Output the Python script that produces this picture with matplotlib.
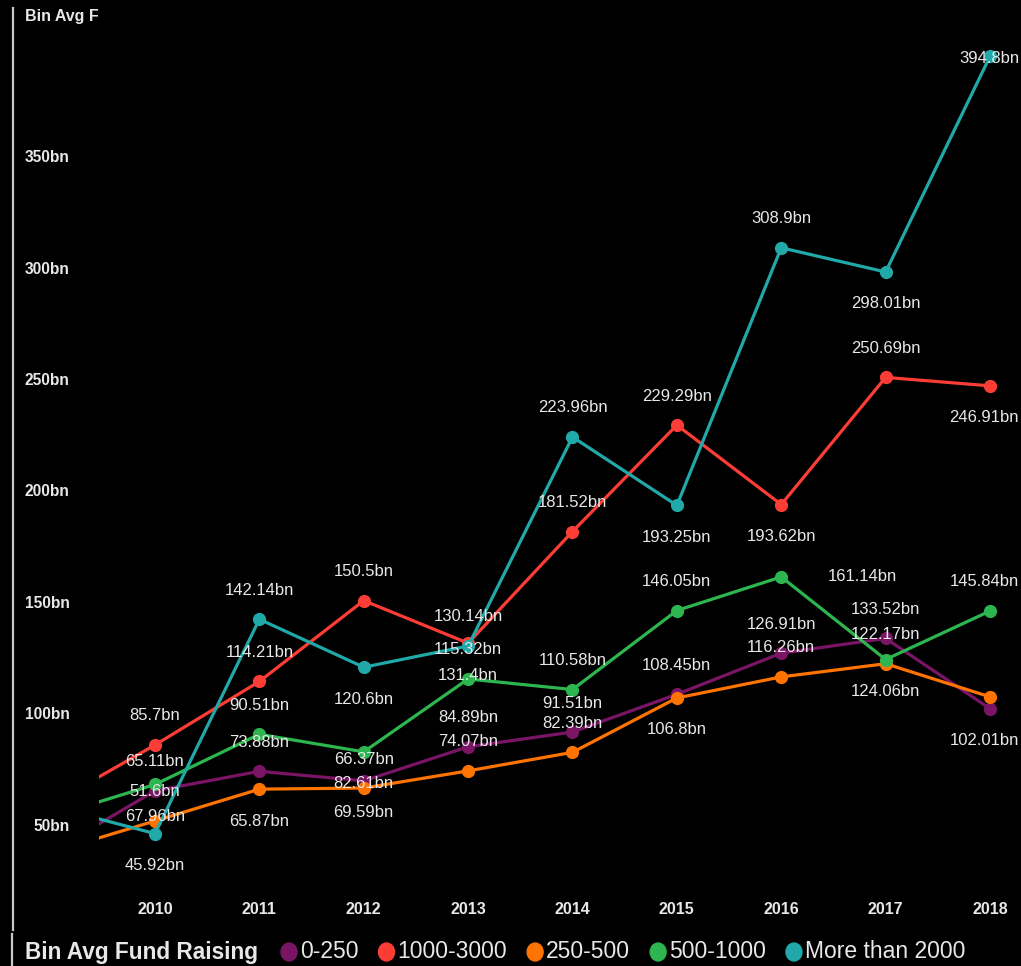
import matplotlib
matplotlib.use("Agg")
import matplotlib.pyplot as plt
from matplotlib.patches import Ellipse
from matplotlib.lines import Line2D
from matplotlib.ticker import FuncFormatter

# ---- data -------------------------------------------------------------
years = [2009, 2010, 2011, 2012, 2013, 2014, 2015, 2016, 2017, 2018]
series_names = ["0-250", "1000-3000", "250-500", "500-1000", "More than 2000"]

fund_0_250 = [37.5, 65.11, 73.88, 69.59, 84.89, 91.51, 108.45, 126.91, 133.52, 102.01]
fund_1000_3000 = [59.0, 85.7, 114.21, 150.5, 131.4, 181.52, 229.29, 193.62, 250.69, 246.91]
fund_250_500 = [37.4, 51.6, 65.87, 66.37, 74.07, 82.39, 106.8, 116.26, 122.17, 107.3]
fund_500_1000 = [53.4, 67.96, 90.51, 82.61, 115.32, 110.58, 146.05, 161.14, 124.06, 145.84]
fund_over_2000 = [58.2, 45.92, 142.14, 120.6, 130.14, 223.96, 193.25, 308.9, 298.01, 394.8]

y_ticks = [50, 100, 150, 200, 250, 300, 350]
x_ticks = [2010, 2011, 2012, 2013, 2014, 2015, 2016, 2017, 2018]

# ---- styling ----------------------------------------------------------
colors = ["#7A1566", "#FC3D35", "#FF7300", "#2DB64F", "#21A9A9"]
values = [fund_0_250, fund_1000_3000, fund_250_500, fund_500_1000, fund_over_2000]

# where each value label sits relative to its point (from 2010 onward)
A, B, R, C, N = "above", "below", "right", "center", None
label_pos = [
    [A, A, B, A, A, A, A, A, B],
    [A, A, A, B, A, A, B, A, B],
    [A, B, A, A, A, B, A, A, N],
    [B, A, B, A, A, A, R, B, A],
    [B, A, B, A, A, B, A, B, C],
]

plt.rcParams["font.family"] = ["Liberation Sans", "DejaVu Sans"]
W, H, DPI = 1021, 966, 100
fig = plt.figure(figsize=(W / DPI, H / DPI), dpi=DPI, facecolor="black")

# plot area in pixels
left_px, right_px, top_px, bottom_px = 99, 1021, 0, 890
ax = fig.add_axes([left_px / W, 1 - bottom_px / H,
                   (right_px - left_px) / W, (bottom_px - top_px) / H])
ax.set_facecolor("black")
for s in ax.spines.values():
    s.set_visible(False)

ax.set_xlim(2009.4635, 2018.297)
ax.set_ylim(20.6, 420.1)

for vals, col in zip(values, colors):
    ax.plot(years, vals, color=col, lw=2.3, marker="o", ms=9.5,
            markeredgewidth=0, solid_capstyle="round", clip_on=True)

text_col = "#E8E8E8"
offsets = {"above": (0, 29), "below": (0, -32), "right": (47, 0), "center": (0, -2)}
labels = []
for vals, positions in zip(values, label_pos):
    for x, v, p in zip(years[1:], vals[1:], positions):
        if p is None:
            continue
        dx, dy = offsets[p]
        a = ax.annotate(f"{v:g}bn", (x, v), xytext=(dx, dy), textcoords="offset pixels",
                        ha="left" if p == "right" else "center", va="center",
                        color=text_col, fontsize=12, zorder=10, annotation_clip=False)
        labels.append((a, x, v, dx, dy))

ax.set_yticks(y_ticks)
ax.yaxis.set_major_formatter(FuncFormatter(lambda v, _: f"{v:g}bn"))
ax.set_xticks(x_ticks)
ax.tick_params(axis="y", length=0, pad=21, labelcolor=text_col, labelsize=11.2)
ax.tick_params(axis="x", length=0, pad=9, labelcolor=text_col, labelsize=11.5)
for lab in ax.get_yticklabels() + ax.get_xticklabels():
    lab.set_fontweight("bold")

# axis title (truncated by the panel width)
fig.text(25 / W, 1 - 16 / H, "Bin Avg F", color=text_col, fontsize=11.5,
         fontweight="bold", ha="left", va="center")

# left panel border
fig.add_artist(Line2D([12.5 / W, 12.5 / W], [1 - 8 / H, 1 - 930 / H],
                      color="#C8C8C8", lw=1.6))
fig.add_artist(Line2D([11.5 / W, 11.5 / W], [1 - 934 / H, 0],
                      color="#C8C8C8", lw=1.6))

# keep value labels inside the right edge of the canvas
renderer = fig.canvas.get_renderer()
for a, x, v, dx, dy in labels:
    ext = a.get_window_extent(renderer)
    overflow = ext.x1 - (W - 2)
    if overflow > 0:
        a.set_position((dx - overflow, dy))

# ---- legend row ---------------------------------------------------------
ly = 1 - 952 / H
title = fig.text(25 / W, ly, "Bin Avg Fund Raising", color=text_col,
                 fontsize=16.3, fontweight="bold", ha="left", va="center")
x = title.get_window_extent(renderer).x1 + 23
r = 8
for name, col in zip(series_names, colors):
    fig.add_artist(Ellipse(((x + r) / W, ly), 2 * r / W, 2 * r / H * 1.12,
                           transform=fig.transFigure, color=col))
    t = fig.text((x + 2 * r + 3) / W, ly, name, color=text_col, fontsize=16.5,
                 ha="left", va="center")
    x = t.get_window_extent(renderer).x1 + 20

fig.savefig("out.png", dpi=DPI, facecolor="black")
